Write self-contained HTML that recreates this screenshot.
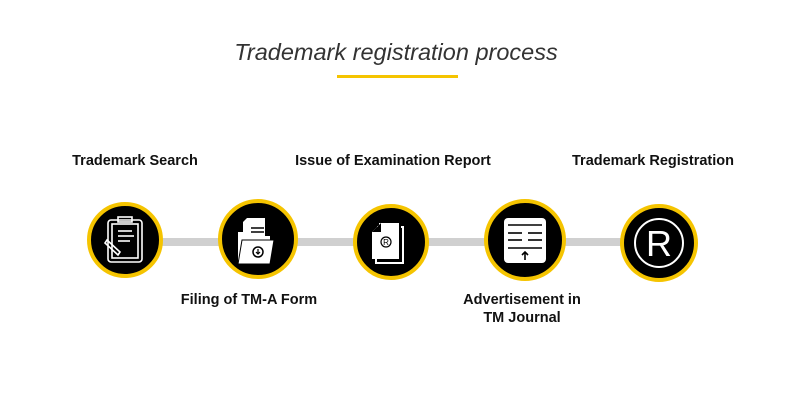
<!DOCTYPE html>
<html><head><style>
body{margin:0;width:800px;height:400px;background:#fff;position:relative;overflow:hidden;font-family:"Liberation Sans",sans-serif;}
.t{position:absolute;left:-4px;width:800px;text-align:center;top:39px;font-size:23.5px;font-style:italic;color:#333;}
.u{position:absolute;left:337px;top:75px;width:121px;height:3px;background:#f5c400;}
.l{position:absolute;font-size:14.5px;font-weight:bold;color:#111;text-align:center;width:260px;line-height:18px;}
</style></head><body>
<div class="t">Trademark registration process</div>
<div class="u"></div>
<div class="l" style="left:5px;top:152px">Trademark Search</div>
<div class="l" style="left:263px;top:152px">Issue of Examination Report</div>
<div class="l" style="left:523px;top:152px">Trademark Registration</div>
<div class="l" style="left:119px;top:291px">Filing of TM-A Form</div>
<div class="l" style="left:392px;top:291px">Advertisement in<br>TM Journal</div>
<svg width="800" height="400" style="position:absolute;left:0;top:0">
<rect x="125" y="238" width="534" height="8" fill="#d0d0d0"/>
<g stroke="#f5c400" stroke-width="4" fill="#000">
<circle cx="125" cy="240" r="36"/>
<circle cx="258" cy="239" r="38"/>
<circle cx="391" cy="242" r="36"/>
<circle cx="525" cy="240" r="39"/>
<circle cx="659" cy="243" r="37"/>
</g>
<g stroke="#fff" stroke-width="1.6" fill="none">
<rect x="108" y="220" width="34" height="42" rx="3"/>
<rect x="112" y="224" width="26" height="34"/>
<rect x="118" y="217" width="14" height="5"/>
<line x1="118" y1="231" x2="132" y2="231"/><line x1="118" y1="236" x2="134" y2="236"/><line x1="118" y1="241" x2="130" y2="241"/>
<path d="M107 240 L120 252 L118 255 L105 243 Z"/>
</g>
<path d="M247 218 h18 v22 h-22 v-18 z" fill="#fff"/>
<path d="M238 232 h10 v4 h22 v28 h-32 z" fill="#fff"/>
<path d="M242 240 h32 l-4 24 h-32 z" fill="#fff" stroke="#000" stroke-width="1"/>
<line x1="251" y1="228" x2="264" y2="228" stroke="#000" stroke-width="1.5"/>
<line x1="251" y1="232" x2="264" y2="232" stroke="#000" stroke-width="1.5"/>
<circle cx="258" cy="252" r="5" fill="none" stroke="#000" stroke-width="1.5"/>
<path d="M258 249 v5 M256 252 l2 2 l2-2" stroke="#000" stroke-width="1.2" fill="none"/>
<path d="M381 223 h18 v36 h-27 v-27 z" fill="#fff"/>
<path d="M377 227 h3 v-4 M376 259 v4 h27 v-36 h-2" stroke="#fff" stroke-width="2" fill="none"/>
<path d="M372 232 l9 -9 v9 z" fill="#000"/>
<circle cx="386" cy="242" r="5" fill="none" stroke="#000" stroke-width="1.2"/>
<text x="386" y="245" font-size="8" text-anchor="middle" font-family="Liberation Sans">R</text>
<rect x="504" y="218" width="42" height="45" rx="4" fill="#fff"/>
<g stroke="#000" stroke-width="1.6">
<line x1="508" y1="225" x2="542" y2="225"/>
<line x1="508" y1="233" x2="522" y2="233"/><line x1="528" y1="233" x2="542" y2="233"/>
<line x1="508" y1="240" x2="522" y2="240"/><line x1="528" y1="240" x2="542" y2="240"/>
<line x1="508" y1="248" x2="542" y2="248"/>
<line x1="525" y1="252" x2="525" y2="260"/>
<path d="M522 255 l3-3 l3 3" fill="none"/>
</g>
<circle cx="659" cy="243" r="24" fill="none" stroke="#fff" stroke-width="2"/>
<text x="659" y="256" font-size="36" fill="#fff" text-anchor="middle" font-family="Liberation Sans">R</text>
</svg>
</body></html>
